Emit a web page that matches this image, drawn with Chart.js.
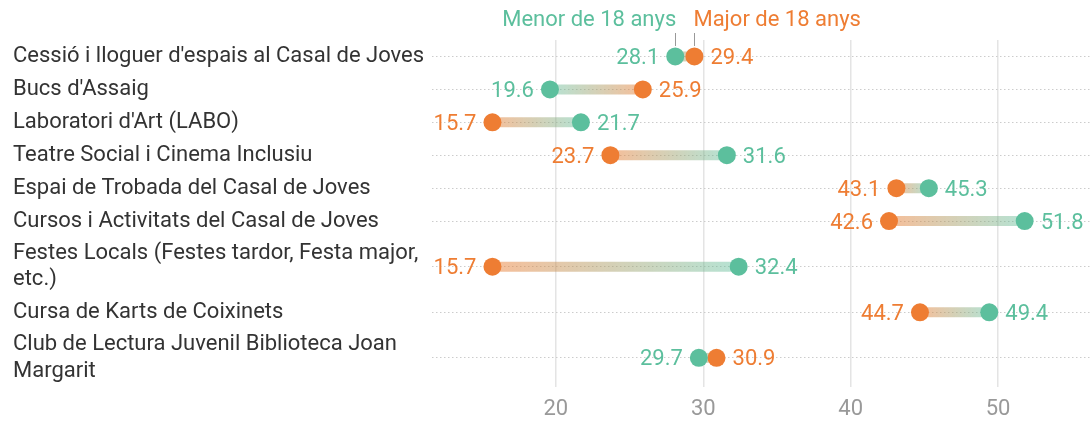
<!DOCTYPE html>
<html>
<head>
<meta charset="utf-8">
<script src="https://cdn.jsdelivr.net/npm/chart.js@4.4.1/dist/chart.umd.min.js"></script>
<style>
  html, body { margin: 0; padding: 0; background: #ffffff; }
  #wrap { width: 1091px; height: 421px; position: relative; }
</style>
</head>
<body>
<div id="wrap"><canvas id="c"></canvas></div>
<script>
// ---- data ----
const categories = [
  "Cessió i lloguer d'espais al Casal de Joves",
  "Bucs d'Assaig",
  "Laboratori d'Art (LABO)",
  "Teatre Social i Cinema Inclusiu",
  "Espai de Trobada del Casal de Joves",
  "Cursos i Activitats del Casal de Joves",
  ["Festes Locals (Festes tardor, Festa major,", "etc.)"],
  "Cursa de Karts de Coixinets",
  ["Club de Lectura Juvenil Biblioteca Joan", "Margarit"]
];
const menor18 = [28.1, 19.6, 21.7, 31.6, 45.3, 51.8, 32.4, 49.4, 29.7];
const major18 = [29.4, 25.9, 15.7, 23.7, 43.1, 42.6, 15.7, 44.7, 30.9];
const seriesNames = ["Menor de 18 anys", "Major de 18 anys"];
const xTickValues = [20, 30, 40, 50];

// ---- styling ----
const GREEN = '#5cbf9d';
const ORANGE = '#ee7d33';
Chart.defaults.font.family = 'Roboto';

// row slots: labels with two lines get a taller row
const weights = categories.map(c => Array.isArray(c) ? 1 + 0.77 * (c.length - 1) : 1);
const rowPos = [];
let acc = 0;
weights.forEach(w => { rowPos.push(acc + w / 2); acc += w; });
const totalRows = acc;

const ptsMenor = menor18.map((v, i) => ({ x: v, y: rowPos[i] }));
const ptsMajor = major18.map((v, i) => ({ x: v, y: rowPos[i] }));

const connectorPlugin = {
  id: 'connectors',
  beforeDatasetsDraw(chart) {
    const ctx = chart.ctx;
    const a = chart.getDatasetMeta(0).data;
    const b = chart.getDatasetMeta(1).data;
    ctx.save();
    a.forEach((pa, i) => {
      const pb = b[i];
      const g = ctx.createLinearGradient(pb.x, 0, pa.x, 0);
      g.addColorStop(0, 'rgba(238,125,51,0.5)');
      g.addColorStop(1, 'rgba(92,191,157,0.45)');
      ctx.strokeStyle = g;
      ctx.lineWidth = 10;
      ctx.lineCap = 'butt';
      ctx.beginPath();
      ctx.moveTo(pa.x, pa.y);
      ctx.lineTo(pb.x, pb.y);
      ctx.stroke();
    });
    ctx.restore();
  },
  afterDatasetsDraw(chart) {
    const ctx = chart.ctx;
    const a = chart.getDatasetMeta(0).data;
    const b = chart.getDatasetMeta(1).data;
    ctx.save();
    ctx.font = '22px Roboto';
    ctx.textBaseline = 'middle';
    a.forEach((pa, i) => {
      const pb = b[i];
      const items = [
        { p: pa, v: menor18[i], c: GREEN },
        { p: pb, v: major18[i], c: ORANGE }
      ];
      const left = pa.x <= pb.x ? items[0] : items[1];
      const right = pa.x <= pb.x ? items[1] : items[0];
      ctx.fillStyle = left.c;
      ctx.textAlign = 'right';
      ctx.fillText(left.v.toFixed(1), left.p.x - 16, left.p.y + 2);
      ctx.fillStyle = right.c;
      ctx.textAlign = 'left';
      ctx.fillText(right.v.toFixed(1), right.p.x + 16, right.p.y + 2);
    });
    // legend labels above first row
    const g0 = a[0], o0 = b[0];
    ctx.fillStyle = GREEN;
    ctx.textAlign = 'right';
    ctx.fillText(seriesNames[0], g0.x + 1, 20);
    ctx.fillStyle = ORANGE;
    ctx.textAlign = 'left';
    ctx.fillText(seriesNames[1], o0.x - 1, 20);
    ctx.strokeStyle = '#999999';
    ctx.lineWidth = 1;
    [g0.x, o0.x].forEach(x => {
      ctx.beginPath();
      ctx.moveTo(Math.round(x) + 0.5, 33);
      ctx.lineTo(Math.round(x) + 0.5, 46);
      ctx.stroke();
    });
    ctx.restore();
  }
};

new Chart(document.getElementById('c'), {
  type: 'scatter',
  data: {
    datasets: [
      { label: seriesNames[0], data: ptsMenor, backgroundColor: GREEN, borderWidth: 0, pointRadius: 9, pointHoverRadius: 9 },
      { label: seriesNames[1], data: ptsMajor, backgroundColor: ORANGE, borderWidth: 0, pointRadius: 9, pointHoverRadius: 9 }
    ]
  },
  options: {
    responsive: true,
    maintainAspectRatio: false,
    animation: false,
    layout: { autoPadding: false, padding: { left: 13, top: 40, right: 0, bottom: 0 } },
    plugins: { legend: { display: false }, tooltip: { enabled: false } },
    scales: {
      x: {
        type: 'linear',
        min: 11.6,
        max: 56.3,
        afterBuildTicks(scale) { scale.ticks = xTickValues.map(v => ({ value: v })); },
        afterFit(scale) { scale.height = 34; },
        grid: { color: '#e4e4e4', lineWidth: 1.5, drawTicks: false },
        border: { display: false },
        ticks: { color: '#999999', font: { size: 22 }, padding: 9 }
      },
      y: {
        type: 'linear',
        reverse: true,
        min: 0,
        max: totalRows,
        afterBuildTicks(scale) { scale.ticks = rowPos.map(v => ({ value: v })); },
        afterFit(scale) { scale.width = 419; },
        grid: { color: '#cccccc', lineWidth: 1, drawTicks: false },
        border: { display: false, dash: [1.5, 2.5] },
        ticks: {
          autoSkip: false,
          crossAlign: 'far',
          color: '#333333',
          font: { size: 22, lineHeight: 1.2 },
          callback: (v, i) => categories[i]
        }
      }
    }
  },
  plugins: [connectorPlugin]
});
</script>
</body>
</html>
